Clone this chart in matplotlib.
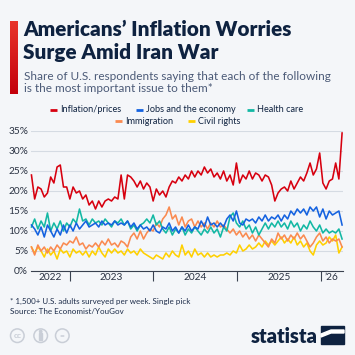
import numpy as np
import pandas as pd
import matplotlib
matplotlib.use('Agg')
import matplotlib.pyplot as plt
from matplotlib.lines import Line2D
from matplotlib.patches import Rectangle, Circle, Polygon

# biweekly survey readings (share of respondents, %)
dates = pd.date_range('2022-07-17', periods=98, freq='14D')

inflation = [24, 18, 21, 20.5, 18.5, 19.5, 23.5, 22, 26, 26.5,
             21, 21, 18, 21, 19.5, 20, 18, 19, 16.5, 17.5,
             15.5, 17.5, 16, 17.5, 18, 17.5, 18.5, 18, 24, 18,
             24, 23.5, 22.5, 21, 22.5, 20.5, 22, 21, 17.5, 20.5,
             19, 20, 18.5, 21, 22.5, 22, 23.5, 22.5, 24, 23,
             25, 23.5, 25, 24, 26, 24.5, 25.5, 23.5, 24.5, 23,
             25, 22.5, 24, 21.5, 27, 22, 24, 23, 25, 23,
             24.5, 24, 22.5, 24, 23.5, 21.5, 17.5, 19.5, 20.5, 21,
             20, 22.5, 20.5, 22, 23.5, 22.5, 24.5, 27, 24, 25.5,
             29.5, 22, 20.5, 22.5, 23, 27, 23, 34.5]
jobs = [11.5, 10.5, 9, 11, 8.5, 11.5, 10, 8.5, 10.5, 9,
        11.5, 9.5, 11.5, 10, 12, 10.5, 11.5, 12.5, 11, 11.5,
        12, 11, 12.5, 11.5, 12, 11.5, 12.5, 11.5, 12, 11.5,
        12.5, 11, 12, 10.5, 11.5, 10.5, 11, 10, 11.5, 10,
        9.5, 11, 10.5, 12, 10, 11, 9.5, 11, 10, 11.5,
        10, 11, 10.5, 12.5, 11, 13.5, 11.5, 12, 11, 12,
        11, 13, 14, 12.5, 15, 12, 11.5, 13, 12.5, 13,
        12, 13.5, 12.5, 14, 12.5, 13.5, 13, 14, 12.5, 14,
        13, 15, 14, 15.5, 14.5, 15.5, 14, 16, 15, 16,
        13.5, 15.5, 13, 15, 14, 14.5, 15, 11.5]
health = [11, 13, 10.5, 12.5, 11, 14.5, 10, 12, 10.5, 12.5,
          10, 12, 11, 13, 12, 15.5, 12.5, 13, 11.5, 13,
          12, 12.5, 11.5, 13, 12, 11, 12.5, 12, 13, 11.5,
          12.5, 10.5, 11.5, 10, 11.5, 12, 13, 12, 14, 11.5,
          12.5, 10.5, 9.5, 11, 9, 10.5, 9.5, 11, 9, 10.5,
          9.5, 11, 10, 9, 10.5, 9.5, 11, 9.5, 10.5, 8.5,
          11, 10, 13.5, 14.5, 12, 11, 12.5, 10.5, 11.5, 9.5,
          11, 9, 10.5, 12, 10.5, 12, 11, 12.5, 11, 12,
          10.5, 12.5, 11, 12, 10, 11.5, 10.5, 12.5, 11, 10,
          11.5, 9.5, 10.5, 9.5, 10, 9.5, 10.5, 8]
immigration = [6, 4, 6.5, 5, 6, 4.5, 6, 5, 6.5, 5.5,
               7, 6.5, 7.5, 7, 8.5, 6.5, 7, 5.5, 6.5, 6,
               7, 6, 7.5, 6.5, 8, 6.5, 7, 6, 7.5, 7,
               6, 8.5, 9.5, 8, 10, 8, 9.5, 10.5, 10, 12,
               11, 13, 14, 16, 13, 14, 11.5, 13.5, 11, 12.5,
               13, 11, 12.5, 11, 12, 10.5, 12, 11, 12.5, 11,
               11.5, 10.5, 9.5, 10.5, 9, 10, 8.5, 9.5, 8, 9,
               7.5, 9, 8, 7, 6, 8, 7, 9.5, 8, 9,
               7.5, 9, 8, 9.5, 8, 9, 7.5, 6, 7, 8.5,
               9.5, 7.5, 8.5, 7, 8, 7.5, 8, 6]
civil_rights = [6, 4.5, 6, 5, 3.5, 5.5, 4, 5, 3, 5.5,
                4.5, 5, 3.5, 5.5, 4.5, 5, 4, 5, 3.5, 5,
                4, 6, 4.5, 3.5, 5.5, 4.5, 5.5, 4.5, 5, 4,
                5.5, 4.5, 5, 4, 5.5, 4.5, 4, 3.5, 3, 4,
                3.5, 3, 4.5, 3.5, 5, 4, 3.5, 6.5, 4, 5,
                3.5, 5.5, 4, 4.5, 3.5, 4.5, 3.5, 4, 3.5, 4,
                4, 4.5, 4, 5, 4.5, 6.5, 5, 5.5, 6.5, 5.5,
                6, 7, 6, 7.5, 6.5, 7.5, 6.5, 7.5, 8.5, 7,
                8, 7, 8.5, 6.5, 7.5, 6, 7, 5, 4, 6.5,
                7.5, 6.5, 7, 8.5, 7.5, 9, 4.5, 6]

series_names = ['Inflation/prices', 'Jobs and the economy', 'Health care',
                'Immigration', 'Civil rights']
series_vals = [inflation, jobs, health, immigration, civil_rights]
colors = ['#D7000F', '#1462E0', '#13B8A4', '#FA8A50', '#FFD000']

bg = '#F4F6F9'
navy = '#0E2240'
W = H = 355.0


def fx(px):
    return px / W


def fy(py):
    return 1 - py / H


plt.rcParams['font.family'] = ['Lato', 'DejaVu Sans']

fig = plt.figure(figsize=(3.55, 3.55), dpi=100, facecolor=bg)

# red accent bar
bar_ax = fig.add_axes([fx(10), fy(94), fx(8), 73 / H])
grad = np.linspace(0, 1, 50).reshape(-1, 1)
bar_ax.imshow(grad, aspect='auto', cmap=matplotlib.colors.LinearSegmentedColormap.from_list(
    'rb', ['#E8342A', '#C4000C']))
bar_ax.axis('off')

fig.text(fx(23), fy(36), 'Americans\u2019 Inflation Worries', fontsize=14.9,
         fontweight='heavy', color=navy, va='baseline')
fig.text(fx(23), fy(58.5), 'Surge Amid Iran War', fontsize=14.9,
         fontweight='heavy', color=navy, va='baseline')
fig.text(fx(24), fy(80), 'Share of U.S. respondents saying that each of the following',
         fontsize=8.5, color='#4B5A77', va='baseline')
fig.text(fx(24), fy(92.5), 'is the most important issue to them*',
         fontsize=8.5, color='#4B5A77', va='baseline')

# legend (two centred rows)
leg_pos = [(50, 109.5), (136, 109.5), (247, 109.5), (115, 121), (188, 121)]
for (lx, ly), name, c in zip(leg_pos, series_names, colors):
    fig.add_artist(Line2D([fx(lx), fx(lx + 7)], [fy(ly), fy(ly)], color=c,
                          lw=2, solid_capstyle='butt'))
    fig.text(fx(lx + 10), fy(ly), name, fontsize=6.6, color=navy, va='center')

ax = fig.add_axes([fx(31), fy(271), fx(343 - 31), 140 / H])
ax.set_facecolor(bg)
for name, vals, c in list(zip(series_names, series_vals, colors))[::-1]:
    ax.plot(dates, vals, color=c, lw=1.15, label=name, clip_on=False,
            solid_joinstyle='round')

ax.set_ylim(0, 35)
ax.set_yticks(np.arange(0, 36, 5))
ax.set_yticklabels([f'{v}%' for v in range(0, 36, 5)])
ax.yaxis.grid(True, color='#D5DBE3', lw=0.8)
ax.set_axisbelow(True)
ax.set_xlim(pd.Timestamp('2022-07-15'), pd.Timestamp('2026-04-09'))

year_starts = pd.to_datetime(['2023-01-01', '2024-01-01', '2025-01-01', '2026-01-01'])
ax.set_xticks(year_starts)
ax.set_xticklabels([])
ax.tick_params(axis='x', which='major', length=7, width=0.8, color='#3A4250', direction='out')
edges = [pd.Timestamp('2022-07-15')] + list(year_starts) + [pd.Timestamp('2026-04-09')]
mids = [edges[i] + (edges[i + 1] - edges[i]) / 2 for i in range(len(edges) - 1)]
ax.set_xticks(mids, minor=True)
ax.set_xticklabels(['2022', '2023', '2024', '2025', '\u201926'], minor=True)
ax.tick_params(axis='x', which='minor', length=0, labelsize=7.3, labelcolor='#2A3242', pad=1.5)
ax.tick_params(axis='y', length=0, labelsize=7.3, labelcolor='#2A3242', pad=2)

for s in ['top', 'right', 'left']:
    ax.spines[s].set_visible(False)
ax.spines['bottom'].set_color('#3A4250')
ax.spines['bottom'].set_linewidth(0.8)

fig.text(fx(10), fy(301), '* 1,500+ U.S. adults surveyed per week. Single pick',
         fontsize=5.8, color='#1E2D4A', va='center')
fig.text(fx(10), fy(312), 'Source: The Economist/YouGov',
         fontsize=5.8, color='#1E2D4A', va='center')

# cc icons
for cx, t in zip([17.3, 40.7, 62.3], ['cc', '', '=']):
    fig.add_artist(Circle((fx(cx), fy(335.7)), 6.8 / W, transform=fig.transFigure,
                          fill=False, ec='#C9CED7', lw=1.1))
    if t:
        fig.text(fx(cx), fy(335.7), t, fontsize=6, fontweight='bold',
                 color='#C9CED7', ha='center', va='center')
fig.add_artist(Circle((fx(40.7), fy(331.5)), 1.2 / W, transform=fig.transFigure,
                      color='#C9CED7'))
fig.add_artist(Rectangle((fx(39.3), fy(340)), 2.8 / W, 7 / H,
                         transform=fig.transFigure, color='#C9CED7'))

# statista logo
fig.text(fx(318), fy(343), 'statista', fontsize=14.5, fontweight='heavy',
         color=navy, ha='right', va='baseline')
fig.add_artist(Rectangle((fx(321), fy(344)), 23 / W, 18 / H,
                         transform=fig.transFigure, color=navy))
fig.add_artist(Polygon([(fx(321), fy(337)), (fx(331), fy(333)), (fx(344), fy(333)),
                        (fx(344), fy(330)), (fx(331), fy(330)), (fx(321), fy(334))],
                       closed=True, transform=fig.transFigure, color='white'))

fig.savefig('out.png', dpi=100, facecolor=bg)
